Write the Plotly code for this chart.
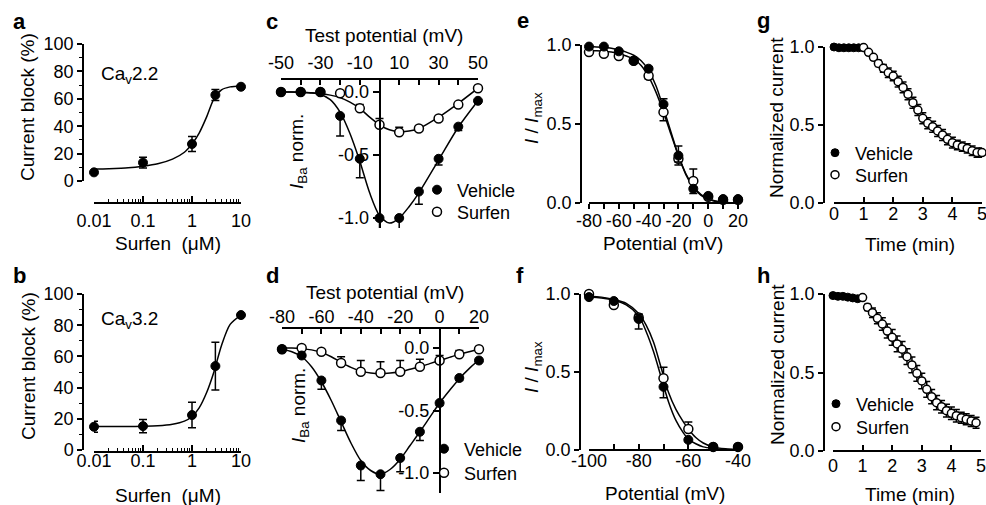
import plotly.graph_objects as go

# ---------------- data ----------------
# a / b : concentration-response
conc = [0.01, 0.1, 1, 3, 10]
block_a = [6.3, 13.4, 27.0, 62.8, 68.8]
err_a = [1.0, 4.0, 5.5, 4.0, 1.0]
block_b = [14.9, 15.3, 22.4, 53.8, 86.5]
err_b = [3.5, 4.3, 8.2, 15.3, 0.8]
fit_conc = [0.01, 0.02, 0.05, 0.1, 0.2, 0.4, 0.7, 1, 1.4, 2, 2.8, 4, 6, 10]
fit_a = [8.8, 9.0, 9.6, 10.8, 12.6, 16.0, 21.0, 27.0, 35.0, 47.0, 60.0, 66.5, 68.7, 69.4]
fit_b = [15.0, 15.0, 15.1, 15.2, 15.5, 16.5, 18.5, 21.5, 27.0, 37.0, 50.0, 67.0, 80.5, 86.5]

# c : I-V (CaV2.2)
v_c = [-50, -40, -30, -20, -10, 0, 10, 20, 30, 40, 50]
veh_c = [0.0, 0.0, 0.0, -0.19, -0.53, -1.0, -1.0, -0.79, -0.53, -0.275, -0.07]
veh_c_dn = [0, 0, 0, 0.16, 0.15, 0.16, 0.11, 0.10, 0.05, 0.03, 0.02]
sur_c = [0.0, 0.0, 0.0, -0.01, -0.13, -0.26, -0.32, -0.29, -0.21, -0.10, 0.03]
sur_c_up = [0, 0, 0, 0.01, 0.03, 0.05, 0.04, 0.02, 0.01, 0.01, 0.01]
fitv_c = [-50, -45, -40, -35, -30, -25, -20, -15, -10, -5, 0, 5, 10, 15, 20, 30, 40, 50]
fit_veh_c = [0.0, -0.001, -0.003, -0.008, -0.02, -0.06, -0.16, -0.33, -0.55, -0.8, -0.98, -1.04,
             -1.0, -0.91, -0.8, -0.54, -0.28, -0.07]
fit_sur_c = [0.0, 0.0, -0.002, -0.006, -0.012, -0.025, -0.045, -0.08, -0.13, -0.2, -0.26, -0.3,
             -0.315, -0.31, -0.29, -0.2, -0.09, 0.03]

# d : I-V (CaV3.2)
v_d = [-80, -70, -60, -50, -40, -30, -20, -10, 0, 10, 20]
veh_d = [-0.01, -0.06, -0.26, -0.58, -0.94, -1.01, -0.88, -0.67, -0.44, -0.24, -0.10]
veh_d_dn = [0, 0.01, 0.07, 0.08, 0.12, 0.13, 0.11, 0.07, 0.02, 0.02, 0.01]
sur_d = [-0.01, 0.0, -0.03, -0.12, -0.19, -0.20, -0.19, -0.15, -0.10, -0.05, -0.01]
sur_d_up = [0, 0.005, 0.01, 0.05, 0.09, 0.09, 0.09, 0.06, 0.04, 0.03, 0.01]
fitv_d = [-80, -75, -70, -65, -60, -55, -50, -45, -40, -35, -30, -25, -20, -15, -10, -5, 0, 5, 10, 15, 20]
fit_veh_d = [-0.01, -0.03, -0.07, -0.15, -0.27, -0.42, -0.59, -0.76, -0.9, -0.98, -1.01, -0.97,
             -0.89, -0.78, -0.67, -0.555, -0.44, -0.34, -0.245, -0.165, -0.095]
fit_sur_d = [0.0, 0.0, -0.005, -0.015, -0.035, -0.07, -0.115, -0.155, -0.185, -0.2, -0.205, -0.2,
             -0.19, -0.17, -0.15, -0.125, -0.1, -0.075, -0.05, -0.03, -0.01]

# e : inactivation (CaV2.2)
v_e = [-80, -70, -60, -50, -40, -30, -20, -10, 0, 10, 20]
veh_e = [0.99, 0.99, 0.96, 0.90, 0.85, 0.625, 0.30, 0.09, 0.045, 0.025, 0.025]
veh_e_up = [0, 0, 0.01, 0.01, 0.01, 0.035, 0.06, 0.01, 0.01, 0.005, 0.005]
veh_e_dn = [0, 0, 0, 0, 0, 0.01, 0.04, 0.03, 0, 0, 0]
sur_e = [0.955, 0.945, 0.93, 0.90, 0.805, 0.575, 0.28, 0.14, 0.04, 0.02, 0.02]
sur_e_up = [0, 0, 0, 0, 0, 0.01, 0.01, 0.075, 0, 0, 0]
sur_e_dn = [0.005, 0.005, 0.01, 0.01, 0.02, 0.055, 0.04, 0.01, 0, 0, 0]
fitv_e = [-80, -75, -70, -65, -60, -55, -50, -45, -40, -35, -30, -25, -20, -15, -10, -5, 0, 5, 10, 15, 20]
fit_veh_e = [0.99, 0.988, 0.985, 0.98, 0.97, 0.955, 0.935, 0.9, 0.84, 0.74, 0.6, 0.45, 0.3, 0.18,
             0.1, 0.05, 0.023, 0.01, 0.004, 0.002, 0.001]
fit_sur_e = [0.965, 0.963, 0.96, 0.955, 0.945, 0.93, 0.91, 0.87, 0.8, 0.7, 0.575, 0.435, 0.3, 0.185,
             0.105, 0.055, 0.026, 0.012, 0.005, 0.002, 0.001]

# f : inactivation (CaV3.2)
v_f = [-100, -90, -80, -70, -60, -50, -40]
veh_f = [0.98, 0.955, 0.84, 0.405, 0.065, 0.02, 0.02]
veh_f_up = [0, 0, 0.03, 0.0, 0, 0, 0.01]
veh_f_dn = [0, 0.01, 0.065, 0.07, 0.01, 0, 0]
sur_f = [1.0, 0.93, 0.85, 0.46, 0.135, 0.02, 0.02]
sur_f_up = [0, 0.01, 0.02, 0.07, 0.045, 0, 0]
sur_f_dn = [0, 0.01, 0.02, 0.06, 0.01, 0, 0.01]
fitv_f = [-100, -95, -90, -85, -80, -77, -74, -71, -68, -65, -62, -60, -57, -54, -50, -45, -40]
fit_veh_f = [0.98, 0.975, 0.96, 0.93, 0.86, 0.76, 0.63, 0.47, 0.31, 0.19, 0.11, 0.07, 0.04, 0.02,
             0.01, 0.004, 0.002]
fit_sur_f = [0.985, 0.98, 0.965, 0.94, 0.875, 0.8, 0.69, 0.53, 0.37, 0.26, 0.18, 0.135, 0.08, 0.045,
             0.02, 0.008, 0.003]

# g / h : time course
t_veh = [0.0, 0.167, 0.333, 0.5, 0.667, 0.833]
veh_g = [1.0, 0.995, 0.995, 0.995, 0.995, 0.995]
veh_h = [0.99, 0.985, 0.985, 0.98, 0.975, 0.97]
t_sur_g = [1.0, 1.167, 1.333, 1.5, 1.667, 1.833, 2.0, 2.167, 2.333, 2.5, 2.667, 2.833, 3.0,
           3.167, 3.333, 3.5, 3.667, 3.833, 4.0, 4.167, 4.333, 4.5, 4.667, 4.833, 5.0]
sur_g = [0.996, 0.966, 0.934, 0.895, 0.863, 0.835, 0.814, 0.778, 0.741, 0.697, 0.643, 0.596,
         0.543, 0.511, 0.489, 0.462, 0.436, 0.408, 0.387, 0.372, 0.361, 0.350, 0.335, 0.323, 0.323]
err_g = [0.005, 0.01, 0.015, 0.02, 0.025, 0.03, 0.03, 0.035, 0.035, 0.035, 0.035, 0.035, 0.035,
         0.035, 0.035, 0.035, 0.035, 0.035, 0.035, 0.03, 0.03, 0.03, 0.03, 0.03, 0.03]
t_sur_h = [1.0, 1.167, 1.333, 1.5, 1.667, 1.833, 2.0, 2.167, 2.333, 2.5, 2.667, 2.833, 3.0,
           3.167, 3.333, 3.5, 3.667, 3.833, 4.0, 4.167, 4.333, 4.5, 4.667, 4.833]
sur_h = [0.977, 0.915, 0.881, 0.845, 0.809, 0.764, 0.724, 0.682, 0.648, 0.601, 0.548, 0.495,
         0.446, 0.393, 0.346, 0.308, 0.282, 0.257, 0.240, 0.225, 0.212, 0.202, 0.191, 0.180]
err_h = [0.01, 0.02, 0.03, 0.035, 0.04, 0.045, 0.05, 0.05, 0.05, 0.05, 0.05, 0.05, 0.05, 0.05,
         0.045, 0.045, 0.04, 0.04, 0.04, 0.04, 0.035, 0.035, 0.035, 0.035]

log_minor = [0.02, 0.03, 0.04, 0.05, 0.06, 0.07, 0.08, 0.09,
             0.2, 0.3, 0.4, 0.5, 0.6, 0.7, 0.8, 0.9,
             2, 3, 4, 5, 6, 7, 8, 9]

# ---------------- helpers ----------------
W, H = 986, 505
FONT = "Arial, Liberation Sans, Helvetica, sans-serif"
TICK = 18
TITLE = 19


def fx(p):
    return p / W


def fy(p):
    return 1 - p / H


fig = go.Figure()


def axname(n, a):
    return a if n == 1 else "%s%d" % (a, n)


def line(x, y, n):
    fig.add_trace(go.Scatter(x=x, y=y, mode="lines",
                             line=dict(color="black", width=1.5, shape="spline", smoothing=0.8),
                             xaxis=axname(n, "x"), yaxis=axname(n, "y"),
                             showlegend=False, hoverinfo="skip"))


def pts(x, y, n, filled, name=None, legend=None, up=None, dn=None, size=9, cap=4, rank=1):
    err = None
    if up is not None or dn is not None:
        err = dict(type="data", symmetric=False,
                   array=up if up is not None else [0] * len(x),
                   arrayminus=dn if dn is not None else [0] * len(x),
                   color="black", thickness=1.5, width=cap)
    marker = dict(size=size, color="black" if filled else "white",
                  line=dict(color="black", width=1.0 if filled else 1.5), symbol="circle")
    fig.add_trace(go.Scatter(x=x, y=y, mode="markers", marker=marker, error_y=err,
                             xaxis=axname(n, "x"), yaxis=axname(n, "y"),
                             name=name, showlegend=legend is not None, legend=legend if legend else "legend",
                             legendrank=rank, cliponaxis=False))


# a
line(fit_conc, fit_a, 1)
pts(conc, block_a, 1, True, up=err_a, dn=err_a)
# b
line(fit_conc, fit_b, 2)
pts(conc, block_b, 2, True, up=err_b, dn=err_b)
# c
line(fitv_c, fit_sur_c, 3)
line(fitv_c, fit_veh_c, 3)
pts(v_c, sur_c, 3, False, "Surfen", "legend2", up=sur_c_up)
pts(v_c, veh_c, 3, True, "Vehicle", "legend", dn=veh_c_dn)
# d
line(fitv_d, fit_sur_d, 4)
line(fitv_d, fit_veh_d, 4)
pts(v_d, sur_d, 4, False, "Surfen", "legend4", up=sur_d_up)
pts(v_d, veh_d, 4, True, "Vehicle", "legend3", dn=veh_d_dn)
# e
line(fitv_e, fit_sur_e, 5)
line(fitv_e, fit_veh_e, 5)
pts(v_e, sur_e, 5, False, up=sur_e_up, dn=sur_e_dn)
pts(v_e, veh_e, 5, True, up=veh_e_up, dn=veh_e_dn)
# f
line(fitv_f, fit_sur_f, 6)
line(fitv_f, fit_veh_f, 6)
pts(v_f, sur_f, 6, False, up=sur_f_up, dn=sur_f_dn)
pts(v_f, veh_f, 6, True, up=veh_f_up, dn=veh_f_dn)
# g
pts(t_veh, veh_g, 7, True, "Vehicle", "legend5", size=8)
pts(t_sur_g, sur_g, 7, False, "Surfen", "legend6", up=err_g, dn=err_g, size=8, cap=3.5)
# h
pts(t_veh, veh_h, 8, True, "Vehicle", "legend7", size=8)
pts(t_sur_h, sur_h, 8, False, "Surfen", "legend8", up=err_h, dn=err_h, size=8, cap=3.5)


def ax(**kw):
    d = dict(showline=True, linecolor="black", linewidth=1.5, ticks="outside", ticklen=5, tickwidth=1.5,
             tickcolor="black", showgrid=False, zeroline=False, fixedrange=True, automargin=False,
             tickangle=0, ticklabeloverflow="allow", tickfont=dict(family=FONT, size=TICK, color="black"))
    d.update(kw)
    return d


minor_log = dict(tickmode="array", tickvals=log_minor, ticks="inside", ticklen=3, tickwidth=1.2,
                 tickcolor="black", showgrid=False)
minor_y10 = dict(dtick=10, ticks="outside", ticklen=3, tickwidth=1.2, tickcolor="black", showgrid=False)


def minor10(t0, ticks):
    return dict(dtick=10, tick0=t0, ticks=ticks, ticklen=5, tickwidth=1.5, tickcolor="black", showgrid=False)


lay = dict(
    width=W, height=H, margin=dict(l=0, r=0, t=0, b=0, autoexpand=False),
    paper_bgcolor="white", plot_bgcolor="rgba(0,0,0,0)",
    font=dict(family=FONT, size=TITLE, color="black"),
    # a
    xaxis=ax(type="log", domain=[fx(94), fx(241)], range=[-2, 1], anchor="free", position=fy(203),
             tickvals=[0.01, 0.1, 1, 10], ticktext=["0.01", "0.1", "1", "10"], ticks="inside", ticklen=6,
             minor=minor_log, ticklabelstandoff=2),
    yaxis=ax(domain=[fy(181), fy(44)], range=[0, 100], anchor="free", position=fx(83), tick0=0, dtick=20,
             minor=minor_y10),
    # b
    xaxis2=ax(type="log", domain=[fx(94), fx(241)], range=[-2, 1], anchor="free", position=fy(452),
              tickvals=[0.01, 0.1, 1, 10], ticktext=["0.01", "0.1", "1", "10"], ticks="inside", ticklen=6,
              minor=minor_log, ticklabelstandoff=-7),
    yaxis2=ax(domain=[fy(450), fy(294)], range=[0, 100], anchor="free", position=fx(83), tick0=0, dtick=20,
              minor=minor_y10),
    # c
    xaxis3=ax(domain=[fx(281), fx(478)], range=[-50, 50], side="top", anchor="free", position=fy(79),
              tickvals=[-50, -30, -10, 10, 30, 50], ticktext=["-50", "-30", "-10", "10", "30", "50"],
              ticks="inside", ticklen=5, ticklabelstandoff=2, minor=minor10(-50, "inside")),
    yaxis3=ax(domain=[fy(228), fy(79)], range=[-1.079, 0.103], anchor="free", position=fx(379.5),
              tickvals=[0, -0.5, -1.0], ticktext=["0.0", "-0.5", "-1.0"], ticklen=6),
    # d
    xaxis4=ax(domain=[fx(282), fx(479)], range=[-80, 20], side="top", anchor="free", position=fy(328),
              tickvals=[-80, -60, -40, -20, 0, 20], ticktext=["-80", "-60", "-40", "-20", "0", "20"],
              ticks="inside", ticklen=5, ticklabelstandoff=-3, minor=minor10(-80, "inside")),
    yaxis4=ax(domain=[fy(493), fy(328)], range=[-1.16, 0.16], anchor="free", position=fx(439.6),
              tickvals=[0, -0.5, -1.0], ticktext=["0.0", "-0.5", "-1.0"], ticklen=6),
    # e
    xaxis5=ax(domain=[fx(589), fx(738)], range=[-80, 20], anchor="free", position=fy(203),
              tickvals=[-80, -60, -40, -20, 0, 20], ticktext=["-80", "-60", "-40", "-20", "0", "20"],
              ticklabelstandoff=-3, minor=minor10(-80, "outside")),
    yaxis5=ax(domain=[fy(203), fy(45)], range=[0, 1], anchor="free", position=fx(581),
              tickvals=[0, 0.5, 1.0], ticktext=["0.0", "0.5", "1.0"]),
    # f
    xaxis6=ax(domain=[fx(589), fx(738)], range=[-100, -40], anchor="free", position=fy(450),
              tickvals=[-100, -80, -60, -40], ticktext=["-100", "-80", "-60", "-40"],
              ticks="inside", ticklabelstandoff=-5, minor=minor10(-100, "inside")),
    yaxis6=ax(domain=[fy(450), fy(294)], range=[0, 1], anchor="free", position=fx(580),
              tickvals=[0, 0.5, 1.0], ticktext=["0.0", "0.5", "1.0"]),
    # g
    xaxis7=ax(domain=[fx(834), fx(982)], range=[0, 5], anchor="free", position=fy(203), tick0=0, dtick=1,
              ticks="inside", ticklabelstandoff=-5),
    yaxis7=ax(domain=[fy(203), fy(47)], range=[0, 1], anchor="free", position=fx(824),
              tickvals=[0, 0.5, 1.0], ticktext=["0.0", "0.5", "1.0"]),
    # h
    xaxis8=ax(domain=[fx(833), fx(981)], range=[0, 5], anchor="free", position=fy(451), tick0=0, dtick=1,
              ticks="inside", ticklabelstandoff=-1),
    yaxis8=ax(domain=[fy(451), fy(294)], range=[0, 1], anchor="free", position=fx(824),
              tickvals=[0, 0.5, 1.0], ticktext=["0.0", "0.5", "1.0"]),
)

# one legend per entry so each row sits where the reference has it
legend_pos = {"legend": (439, 190), "legend2": (439, 212), "legend3": (446, 449), "legend4": (446, 473),
              "legend5": (837, 153), "legend6": (837, 175), "legend7": (838, 404), "legend8": (838, 427)}
for key, (mx, my) in legend_pos.items():
    lay[key] = dict(x=fx(mx - 22), xanchor="left", y=fy(my), yanchor="middle", bgcolor="rgba(0,0,0,0)",
                    borderwidth=0, itemwidth=30, font=dict(family=FONT, size=18, color="black"))

fig.update_layout(**lay)


def ann(text, x, y, size=TITLE, angle=0, xanchor="center"):
    fig.add_annotation(text=text, x=fx(x), y=fy(y), xref="paper", yref="paper", showarrow=False,
                       xanchor=xanchor, yanchor="middle", textangle=angle,
                       font=dict(family=FONT, size=size, color="black"))


# panel letters
for letter, (lx, ly) in {"a": (19, 21), "b": (19, 275), "c": (272, 21), "d": (272, 275),
                         "e": (523, 20), "f": (520, 275), "g": (763, 20), "h": (763, 275)}.items():
    ann("<b>%s</b>" % letter, lx, ly, size=22)

# axis titles
ann("Current block (%)", 28, 107, angle=-90)
ann("Surfen  (μM)", 168, 243)
ann("Ca<sub>v</sub>2.2", 99, 75, xanchor="left")
ann("Current block (%)", 28, 366, angle=-90)
ann("Surfen  (μM)", 168, 495)
ann("Ca<sub>v</sub>3.2", 99, 320, xanchor="left")
ann("Test potential (mV)", 384, 35)
ann("<i>I</i><sub>Ba</sub> norm.", 298, 152, angle=-90)
ann("Test potential (mV)", 385, 292)
ann("<i>I</i><sub>Ba</sub> norm.", 300, 406, angle=-90)
ann("Potential (mV)", 663, 243)
ann("<i>I</i> / <i>I</i><sub>max</sub>", 533, 118, angle=-90)
ann("Potential (mV)", 665, 493)
ann("<i>I</i> / <i>I</i><sub>max</sub>", 533, 367, angle=-90)
ann("Normalized current", 777, 118, angle=-90)
ann("Time (min)", 910, 244)
ann("Normalized current", 777, 365, angle=-90)
ann("Time (min)", 910, 494)

# the page body has a default 8px margin; remove it so the 986x505 figure fills the window exactly
fig.write_html("out.html", config={"displayModeBar": False},
               post_script="document.body.style.margin='0px';document.body.style.overflow='hidden';")
